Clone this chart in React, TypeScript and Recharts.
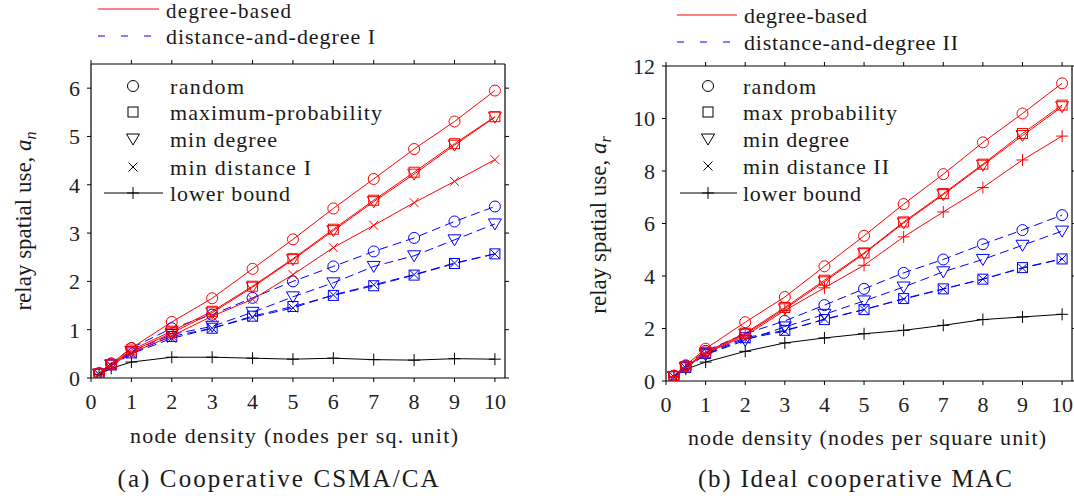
import React from 'react';
import { LineChart, Line, XAxis, YAxis } from 'recharts';

const xValues = [0.2, 0.5, 1, 2, 3, 4, 5, 6, 7, 8, 9, 10];
const xTicks = [0, 1, 2, 3, 4, 5, 6, 7, 8, 9, 10];
const yTicksA = [0, 1, 2, 3, 4, 5, 6];
const yTicksB = [0, 2, 4, 6, 8, 10, 12];

// (a) Cooperative CSMA/CA
const aDegRandom = [0.10, 0.30, 0.62, 1.16, 1.65, 2.26, 2.87, 3.51, 4.12, 4.74, 5.31, 5.95];
const aDegMaxProb = [0.08, 0.28, 0.58, 0.97, 1.38, 1.90, 2.47, 3.08, 3.68, 4.26, 4.85, 5.41];
const aDegMinDegree = [0.08, 0.27, 0.55, 0.93, 1.35, 1.88, 2.45, 3.05, 3.65, 4.22, 4.82, 5.40];
const aDegMinDist = [0.08, 0.26, 0.52, 0.87, 1.28, 1.63, 2.14, 2.70, 3.16, 3.63, 4.07, 4.52];
const aLower = [0.07, 0.20, 0.33, 0.43, 0.43, 0.41, 0.39, 0.41, 0.38, 0.37, 0.40, 0.39];
const aDdRandom = [0.10, 0.30, 0.62, 1.03, 1.31, 1.66, 2.00, 2.31, 2.62, 2.90, 3.24, 3.55];
const aDdMinDegree = [0.08, 0.27, 0.55, 0.90, 1.07, 1.36, 1.68, 1.97, 2.31, 2.53, 2.86, 3.19];
const aDdMaxProb = [0.08, 0.27, 0.52, 0.86, 1.03, 1.28, 1.48, 1.71, 1.91, 2.13, 2.37, 2.57];
const aDdMinDist = [0.07, 0.25, 0.50, 0.82, 1.03, 1.26, 1.45, 1.72, 1.93, 2.14, 2.38, 2.57];

// (b) Ideal cooperative MAC
const bDegRandom = [0.20, 0.60, 1.23, 2.24, 3.20, 4.37, 5.53, 6.74, 7.88, 9.09, 10.19, 11.34];
const bDegMaxProb = [0.18, 0.55, 1.10, 1.82, 2.80, 3.84, 4.88, 6.06, 7.14, 8.26, 9.43, 10.51];
const bDegMinDegree = [0.17, 0.53, 1.07, 1.78, 2.75, 3.78, 4.85, 6.02, 7.10, 8.22, 9.35, 10.45];
const bDegMinDist = [0.17, 0.50, 1.05, 1.72, 2.69, 3.55, 4.41, 5.49, 6.44, 7.37, 8.42, 9.33];
const bLower = [0.15, 0.45, 0.72, 1.13, 1.45, 1.64, 1.80, 1.93, 2.12, 2.34, 2.44, 2.54];
const bDdRandom = [0.20, 0.58, 1.15, 1.80, 2.29, 2.89, 3.51, 4.12, 4.63, 5.21, 5.75, 6.32];
const bDdMinDegree = [0.16, 0.50, 1.00, 1.55, 2.06, 2.54, 3.05, 3.58, 4.16, 4.63, 5.17, 5.71];
const bDdMaxProb = [0.17, 0.52, 1.05, 1.65, 1.93, 2.34, 2.72, 3.14, 3.51, 3.88, 4.32, 4.65];
const bDdMinDist = [0.16, 0.50, 1.02, 1.60, 1.90, 2.36, 2.72, 3.12, 3.50, 3.88, 4.30, 4.65];

const RED = '#ff0000';
const BLUE = '#0000ff';
const DASH = '9 5';

const dataA = xValues.map((x, i) => ({
  x,
  degRandom: aDegRandom[i], degMaxProb: aDegMaxProb[i], degMinDegree: aDegMinDegree[i], degMinDist: aDegMinDist[i],
  lower: aLower[i],
  ddRandom: aDdRandom[i], ddMinDegree: aDdMinDegree[i], ddMaxProb: aDdMaxProb[i], ddMinDist: aDdMinDist[i],
}));
const dataB = xValues.map((x, i) => ({
  x,
  degRandom: bDegRandom[i], degMaxProb: bDegMaxProb[i], degMinDegree: bDegMinDegree[i], degMinDist: bDegMinDist[i],
  lower: bLower[i],
  ddRandom: bDdRandom[i], ddMinDegree: bDdMinDegree[i], ddMaxProb: bDdMaxProb[i], ddMinDist: bDdMinDist[i],
}));

type Shape = 'circle' | 'square' | 'tri' | 'cross' | 'plus';

function markerEl(shape: Shape, cx: number, cy: number, color: string, key?: any) {
  const sw = 1;
  if (shape === 'circle') return <circle key={key} cx={cx} cy={cy} r={5.5} fill="none" stroke={color} strokeWidth={sw} />;
  if (shape === 'square') return <rect key={key} x={cx - 5} y={cy - 5} width={10} height={10} fill="none" stroke={color} strokeWidth={sw} />;
  if (shape === 'tri') return <path key={key} d={`M${cx - 6.5},${cy - 5} L${cx + 6.5},${cy - 5} L${cx},${cy + 6} Z`} fill="none" stroke={color} strokeWidth={sw} />;
  if (shape === 'cross') return <path key={key} d={`M${cx - 4.5},${cy - 4.5} L${cx + 4.5},${cy + 4.5} M${cx - 4.5},${cy + 4.5} L${cx + 4.5},${cy - 4.5}`} fill="none" stroke={color} strokeWidth={sw} />;
  return <path key={key} d={`M${cx - 6},${cy} L${cx + 6},${cy} M${cx},${cy - 6} L${cx},${cy + 6}`} fill="none" stroke={color} strokeWidth={sw} />;
}

const dotFn = (shape: Shape, color: string) => (props: any) => {
  const { cx, cy, index } = props;
  if (cx == null || cy == null) return <g key={`e${index}`} />;
  return markerEl(shape, cx, cy, color, `d${index}`);
};

type SeriesDef = { key: string; shape: Shape; color: string; dash?: string };

function Panel({ data, yMax, yTicks, series, width, height, margin, yAxisW }: any) {
  return (
    <LineChart width={width} height={height} data={data} margin={margin}>
      <XAxis dataKey="x" type="number" domain={[0, 10.25]} ticks={xTicks} allowDataOverflow
        axisLine={{ stroke: '#000', strokeWidth: 1.2 }} tickLine={{ stroke: '#000' }} tickSize={4} tickMargin={11} height={30}
        tick={{ fill: '#222', fontSize: 22 }} />
      <XAxis xAxisId="top" orientation="top" dataKey="x" type="number" domain={[0, 10.25]} ticks={xTicks} allowDataOverflow
        axisLine={{ stroke: '#000', strokeWidth: 1.2 }} tickLine={{ stroke: '#000' }} tickSize={4} height={5} tickFormatter={() => ''} />
      <YAxis type="number" domain={[0, yMax]} ticks={yTicks} allowDataOverflow width={yAxisW}
        axisLine={{ stroke: '#000', strokeWidth: 1.2 }} tickLine={{ stroke: '#000' }} tickSize={4} tickMargin={7}
        tick={{ fill: '#222', fontSize: 22 }} />
      <YAxis yAxisId="right" orientation="right" type="number" domain={[0, yMax]} ticks={yTicks} allowDataOverflow width={2}
        axisLine={{ stroke: '#000', strokeWidth: 1.2 }} tickLine={{ stroke: '#000' }} tickSize={4} tickFormatter={() => ''} />
      {series.map((s: SeriesDef) => (
        <Line key={s.key} dataKey={s.key} type="linear" stroke={s.color} strokeWidth={1}
          strokeDasharray={s.dash} dot={dotFn(s.shape, s.color)} activeDot={false} isAnimationActive={false} />
      ))}
    </LineChart>
  );
}

const seriesA: SeriesDef[] = [
  { key: 'lower', shape: 'plus', color: '#000' },
  { key: 'ddMaxProb', shape: 'square', color: BLUE, dash: DASH },
  { key: 'ddMinDist', shape: 'cross', color: BLUE, dash: DASH },
  { key: 'ddMinDegree', shape: 'tri', color: BLUE, dash: DASH },
  { key: 'ddRandom', shape: 'circle', color: BLUE, dash: DASH },
  { key: 'degMinDist', shape: 'cross', color: RED },
  { key: 'degMinDegree', shape: 'tri', color: RED },
  { key: 'degMaxProb', shape: 'square', color: RED },
  { key: 'degRandom', shape: 'circle', color: RED },
];
const seriesB: SeriesDef[] = [
  { key: 'lower', shape: 'plus', color: '#000' },
  { key: 'ddMaxProb', shape: 'square', color: BLUE, dash: DASH },
  { key: 'ddMinDist', shape: 'cross', color: BLUE, dash: DASH },
  { key: 'ddMinDegree', shape: 'tri', color: BLUE, dash: DASH },
  { key: 'ddRandom', shape: 'circle', color: BLUE, dash: DASH },
  { key: 'degMinDist', shape: 'plus', color: RED },
  { key: 'degMinDegree', shape: 'tri', color: RED },
  { key: 'degMaxProb', shape: 'square', color: RED },
  { key: 'degRandom', shape: 'circle', color: RED },
];

const T = ({ x, y, children, size = 22, len, anchor = 'start' }: any) => (
  <text x={x} y={y} dy="0.35em" fontSize={size} fill="#1a1a1a" textAnchor={anchor}
    textLength={len} lengthAdjust={len ? 'spacing' : undefined}>{children}</text>
);

function InnerLegend({ mx, tx, rows, lineX1, lineX2 }: any) {
  const shapes: Shape[] = ['circle', 'square', 'tri', 'cross'];
  return (
    <g>
      {rows.slice(0, 4).map((r: any, i: number) => (
        <g key={i}>
          {markerEl(shapes[i], mx, r.y, '#000')}
          <T x={tx} y={r.y} len={r.len}>{r.label}</T>
        </g>
      ))}
      <line x1={lineX1} x2={lineX2} y1={rows[4].y} y2={rows[4].y} stroke="#000" strokeWidth={1} />
      {markerEl('plus', mx, rows[4].y, '#000')}
      <T x={tx} y={rows[4].y} len={rows[4].len}>{rows[4].label}</T>
    </g>
  );
}

export default function App() {
  return (
    <div style={{ position: 'absolute', left: 0, top: 0, width: 1074, height: 500, background: '#fff', overflow: 'hidden', fontFamily: "'Liberation Serif', 'Times New Roman', serif" }}>
      <div style={{ position: 'absolute', left: 0, top: 0 }}>
        <Panel data={dataA} yMax={6.5} yTicks={yTicksA} series={seriesA} width={520} height={420}
          margin={{ top: 59, left: 51, right: 13, bottom: 12 }} yAxisW={40} />
      </div>
      <div style={{ position: 'absolute', left: 540, top: 0 }}>
        <Panel data={dataB} yMax={12} yTicks={yTicksB} series={seriesB} width={534} height={420}
          margin={{ top: 61, left: 86, right: 0, bottom: 9 }} yAxisW={40} />
      </div>
      <svg width={1074} height={500} style={{ position: 'absolute', left: 0, top: 0, pointerEvents: 'none' }}>
        {/* top legends */}
        <line x1={98} x2={159} y1={9} y2={9} stroke={RED} strokeWidth={1} />
        <T x={166} y={11} size={21} len={125}>degree-based</T>
        <line x1={98} x2={159} y1={36} y2={36} stroke={BLUE} strokeWidth={1} strokeDasharray="7 16" />
        <T x={166} y={36} len={209}>distance-and-degree I</T>
        <line x1={677} x2={737} y1={15} y2={15} stroke={RED} strokeWidth={1} />
        <T x={744} y={15} len={123}>degree-based</T>
        <line x1={677} x2={737} y1={42} y2={42} stroke={BLUE} strokeWidth={1} strokeDasharray="7 16" />
        <T x={744} y={42} len={214}>distance-and-degree II</T>

        <InnerLegend mx={133} tx={170} lineX1={104} lineX2={163} rows={[
          { y: 86, label: 'random', len: 74 },
          { y: 112, label: 'maximum-probability', len: 212 },
          { y: 139, label: 'min degree', len: 107 },
          { y: 167, label: 'min distance I', len: 141 },
          { y: 193, label: 'lower bound', len: 120 },
        ]} />
        <InnerLegend mx={708} tx={743} lineX1={680} lineX2={737} rows={[
          { y: 86, label: 'random', len: 73 },
          { y: 112, label: 'max probability', len: 154 },
          { y: 139, label: 'min degree', len: 106 },
          { y: 166, label: 'min distance II', len: 146 },
          { y: 193, label: 'lower bound', len: 118 },
        ]} />

        {/* y labels */}
        <text transform="translate(23,221) rotate(-90)" textAnchor="middle" dy="0.35em" fontSize={23} fill="#1a1a1a">
          relay spatial use, <tspan fontStyle="italic">a</tspan><tspan fontStyle="italic" fontSize={16} dy="5">n</tspan>
        </text>
        <text transform="translate(598,225) rotate(-90)" textAnchor="middle" dy="0.35em" fontSize={23} fill="#1a1a1a">
          relay spatial use, <tspan fontStyle="italic">a</tspan><tspan fontStyle="italic" fontSize={16} dy="5">r</tspan>
        </text>

        {/* x labels */}
        <T x={294} y={435} len={328} anchor="middle">node density (nodes per sq. unit)</T>
        <T x={867} y={437} len={358} anchor="middle">node density (nodes per square unit)</T>

        {/* captions */}
        <T x={278} y={478} size={25} len={321} anchor="middle">(a) Cooperative CSMA/CA</T>
        <T x={855} y={478} size={25} len={314} anchor="middle">(b) Ideal cooperative MAC</T>
      </svg>
    </div>
  );
}
